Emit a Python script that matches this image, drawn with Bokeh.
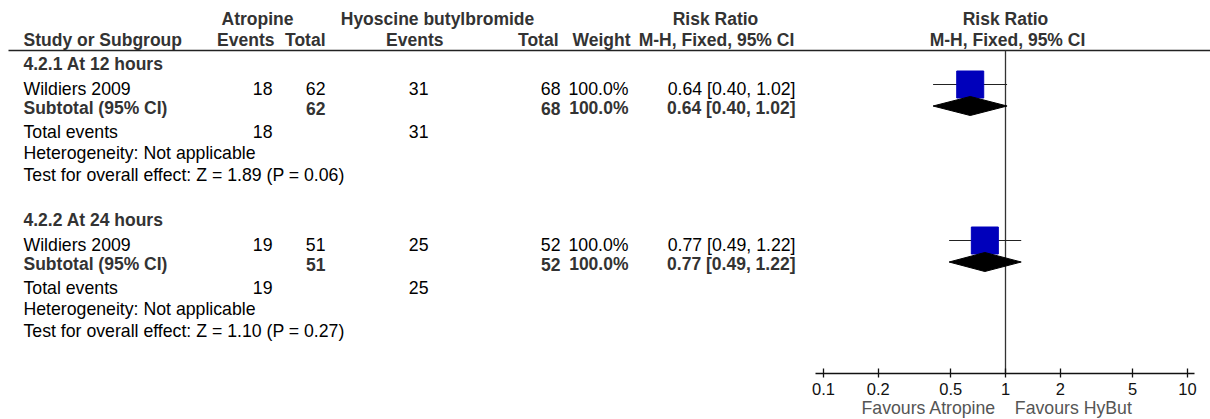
from bokeh.plotting import figure
from bokeh.models import (ColumnDataSource, Range1d, LogScale, LogAxis, FixedTicker,
                          CustomJSTickFormatter, Title)
from bokeh.core.properties import value
from bokeh.embed import file_html
from bokeh.resources import INLINE

# ---------------- data ----------------
subgroups = ["4.2.1 At 12 hours", "4.2.2 At 24 hours"]
studies = ["Wildiers 2009", "Wildiers 2009"]
atro_events = [18, 19]
atro_total = [62, 51]
hyo_events = [31, 25]
hyo_total = [68, 52]
weights = [100.0, 100.0]
rr = [0.64, 0.77]
ci_lo = [0.40, 0.49]
ci_hi = [1.02, 1.22]
sub_rr = [0.64, 0.77]
sub_lo = [0.40, 0.49]
sub_hi = [1.02, 1.22]
z_values = [1.89, 1.10]
p_values = [0.06, 0.27]
heterogeneity = ["Not applicable", "Not applicable"]
axis_ticks = [0.1, 0.2, 0.5, 1, 2, 5, 10]
axis_tick_labels = ["0.1", "0.2", "0.5", "1", "2", "5", "10"]
favours_left = "Favours Atropine"
favours_right = "Favours HyBut"

# ---------------- layout ----------------
W, H = 1210, 419
X0, X1 = 0, 1210          # frame x extent (page pixels)
Y_TOP, Y_AXIS = 0, 373    # frame y extent (page pixels)
FONT = "Liberation Sans"
FS = "17.7px"
FSB = "17.5px"
BOLD_C = "#333333"
LOG_CENTER = 1005.0       # pixel of RR = 1
PPD = 182.0               # pixels per decade
NBSP = "\u00a0"

p = figure(width=W, height=H, output_backend="svg", toolbar_location=None,
           x_axis_type=None, y_axis_type=None,
           x_range=Range1d(X0, X1), y_range=Range1d(Y_AXIS, Y_TOP),
           min_border_left=0, min_border_right=0, min_border_top=0, min_border_bottom=H - Y_AXIS)
p.outline_line_color = None
p.background_fill_color = "white"
p.border_fill_color = "white"

p.extra_x_ranges = {"log": Range1d(10 ** ((X0 - LOG_CENTER) / PPD), 10 ** ((X1 - LOG_CENTER) / PPD))}
p.extra_x_scales = {"log": LogScale()}


def txt(xs, ys, texts, align="left", bold=False, color="#000000"):
    src = ColumnDataSource(dict(x=list(xs), y=list(ys), t=list(texts)))
    p.text(x="x", y="y", text="t", source=src, text_align=align, text_baseline="middle",
           text_font=value(FONT), text_font_size=value(FSB if bold else FS),
           text_font_style="bold" if bold else "normal", text_color=color)


# header
H1, H2, HLINE = 18, 39, 50
txt([257, 437, 715, 1005], [H1] * 4, ["Atropine", "Hyoscine butylbromide", "Risk Ratio", "Risk Ratio"],
    align="center", bold=True, color=BOLD_C)
txt([23], [H2], ["Study or Subgroup"], bold=True, color=BOLD_C)
txt([274, 325, 443, 558, 630], [H2] * 5, ["Events", "Total", "Events", "Total", "Weight"],
    align="right", bold=True, color=BOLD_C)
txt([716, 1007], [H2] * 2, ["M-H, Fixed, 95% CI", "M-H, Fixed, 95% CI"],
    align="center", bold=True, color=BOLD_C)
p.segment(x0=[8], x1=[X1], y0=[HLINE], y1=[HLINE], line_color="#222222", line_width=1.6)

GROUP_STEP = 156
R_TITLE, R_STUDY, R_SUB, R_TE, R_HET, R_TEST = 63, 88, 107.5, 131, 152.5, 174.5
R_MARK, R_DIAM, D_HALF = 84, 105.5, 9.5

for g in range(len(subgroups)):
    b = GROUP_STEP * g
    txt([23], [R_TITLE + b], [subgroups[g]], bold=True, color=BOLD_C)
    # study row
    txt([23], [R_STUDY + b], [studies[g]])
    txt([272, 325, 428, 560, 628, 795], [R_STUDY + b] * 6,
        [str(atro_events[g]), str(atro_total[g]), str(hyo_events[g]), str(hyo_total[g]),
         f"{weights[g]:.1f}%", f"{rr[g]:.2f} [{ci_lo[g]:.2f}, {ci_hi[g]:.2f}]"], align="right")
    # subtotal row
    txt([23], [R_SUB + b], ["Subtotal (95% CI)"], bold=True, color=BOLD_C)
    txt([325, 560, 628, 795], [R_SUB + b] * 4,
        [str(atro_total[g]), str(hyo_total[g]), f"{sum([weights[g]]):.1f}%",
         f"{sub_rr[g]:.2f} [{sub_lo[g]:.2f}, {sub_hi[g]:.2f}]"], align="right", bold=True, color=BOLD_C)
    # totals and tests
    txt([23], [R_TE + b], ["Total events"])
    txt([272, 428], [R_TE + b] * 2, [str(atro_events[g]), str(hyo_events[g])], align="right")
    txt([23, 23], [R_HET + b, R_TEST + b],
        [f"Heterogeneity: {heterogeneity[g]}",
         f"Test for overall effect: Z = {z_values[g]:.2f} (P = {p_values[g]:.2f})"])

# forest plot marks
mark_y = [R_MARK + GROUP_STEP * g for g in range(len(rr))]
diam_y = [R_DIAM + GROUP_STEP * g for g in range(len(rr))]
p.segment(x0=[1], x1=[1], y0=[HLINE], y1=[Y_AXIS], x_range_name="log", line_color="#333333", line_width=1.3)
p.segment(x0=ci_lo, x1=ci_hi, y0=mark_y, y1=mark_y, x_range_name="log", line_color="#222222", line_width=1.2)
p.scatter(x=rr, y=mark_y, marker="square", size=27, fill_color="#0000BB", line_color="#0000BB",
          x_range_name="log")
p.patches(xs=[[lo, m, hi, m] for lo, m, hi in zip(sub_lo, sub_rr, sub_hi)],
          ys=[[y, y - D_HALF, y, y + D_HALF] for y in diam_y],
          x_range_name="log", fill_color="black", line_color="black")

# log axis
ax = LogAxis(x_range_name="log", ticker=FixedTicker(ticks=axis_ticks, minor_ticks=[]),
             bounds=(0.0904, 10.9))
ax.formatter = CustomJSTickFormatter(args=dict(tk=axis_ticks, lb=axis_tick_labels),
                                     code="const i = tk.indexOf(tick); return i >= 0 ? lb[i] : String(tick);")
ax.axis_line_color = "#111111"
ax.axis_line_width = 1.3
ax.major_tick_line_color = "#111111"
ax.major_tick_line_width = 1.3
ax.major_tick_in = 5
ax.major_tick_out = 4
ax.minor_tick_line_color = None
ax.major_label_standoff = 5
ax.major_label_text_font = FONT
ax.major_label_text_font_size = "16.5px"
ax.major_label_text_color = "#111111"
p.add_layout(ax, "below")

# "favours" captions under the axis, left caption ending just left of RR = 1
cap = Title(text=favours_left + NBSP * 4 + favours_right, align="left", offset=861,
            text_font=FONT, text_font_size=FS, text_font_style="normal",
            text_color="#555555", standoff=-3)
p.add_layout(cap, "below")

open("out.html", "w").write(file_html(p, INLINE))
